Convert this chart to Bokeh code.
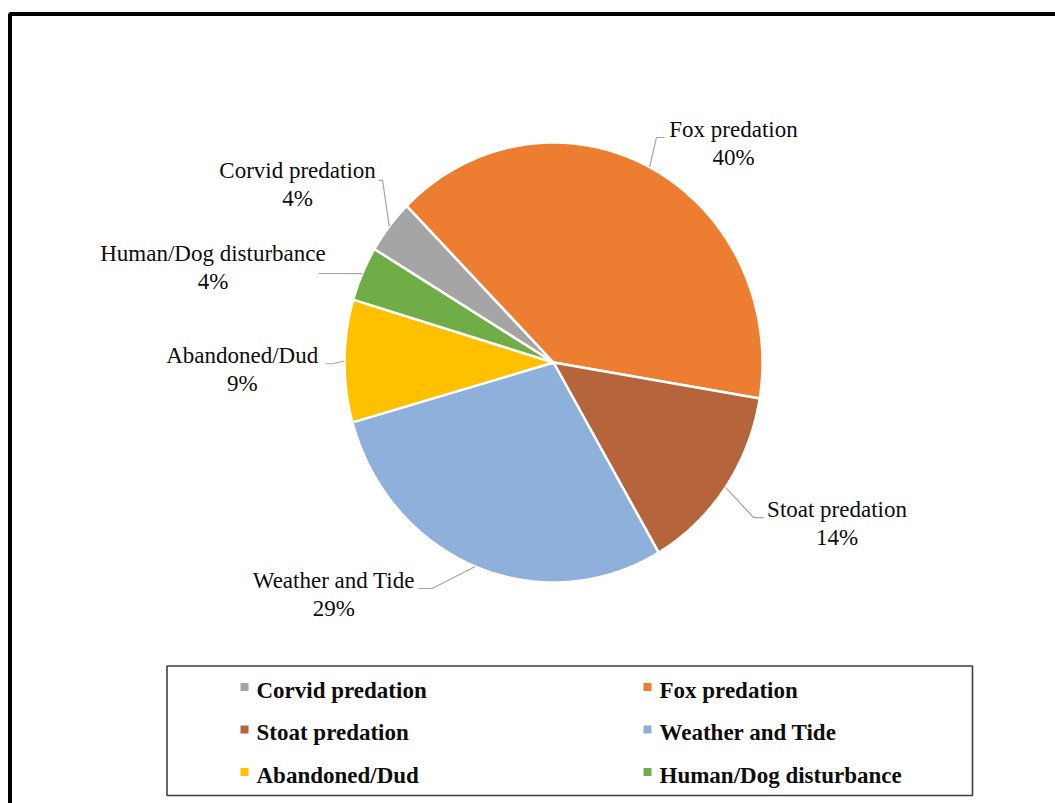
import numpy as np
from bokeh.plotting import figure
from bokeh.models import Range1d, ColumnDataSource
from bokeh.core.properties import value
from bokeh.embed import file_html
from bokeh.resources import INLINE

# Causes of nest failure, share of all failed nests (%)
categories = ["Corvid predation", "Fox predation", "Stoat predation",
              "Weather and Tide", "Abandoned/Dud", "Human/Dog disturbance"]
percent = [4, 40, 14, 29, 9, 4]
colors = ["#A5A5A5", "#ED7D31", "#B5643B", "#8EB0DA", "#FFC000", "#70AD47"]

W, H = 1055, 803
FONT = "Liberation Serif"
TEXT_COLOR = "#0D0D0D"
LABEL_PX, LEGEND_PX = 23, 23
# the renderer sets "alphabetic" text a little low; pull it back up
LABEL_RAISE = 0.31 * LABEL_PX
LEGEND_RAISE = 0.31 * LEGEND_PX

# pie geometry in page pixels (the y range is flipped so y grows downwards)
CX, CY = 553.0, 362.0
RX, RY = 209.0, 220.0
FIRST_SLICE_DEG = 301.0   # clockwise from 12 o'clock

# per-slice label layout: elbow offset from the rim point, horizontal tail,
# and offset of the text block (centre x, first baseline) from the tail end
LABEL_LAYOUT = [
    (-6.7, -46.0, -4.0, -81.0, -3.3),
    (6.8, -29.7, 8.0, 69.0, -1.0),
    (28.0, 30.1, 10.0, 73.5, -1.0),
    (-43.0, 22.0, -13.7, -84.7, -1.3),
    (-12.3, 2.8, -6.7, -83.3, -1.6),
    (-33.8, -0.2, -10.0, -105.5, -13.0),
]
LINE_GAP = 28.3


def rim(theta_deg):
    t = np.radians(theta_deg)
    return CX + RX * np.sin(t), CY - RY * np.cos(t)


p = figure(width=W, height=H, output_backend="svg", toolbar_location=None,
           x_range=Range1d(0, W), y_range=Range1d(H, 0),
           min_border=0, outline_line_color=None, background_fill_color="white",
           border_fill_color="white")
p.axis.visible = False
p.grid.visible = False

# outer chart frame
p.quad(left=[9.5], right=[W + 20], top=[13.5], bottom=[H + 20],
       fill_color=None, line_color="black", line_width=4)

# pie slices
total = float(sum(percent))
spans = [360.0 * v / total for v in percent]
starts = FIRST_SLICE_DEG + np.concatenate([[0.0], np.cumsum(spans)[:-1]])
xs, ys = [], []
for s, sp in zip(starts, spans):
    th = np.linspace(s, s + sp, max(int(sp * 2), 8))
    px, py = rim(th)
    xs.append([CX] + list(px))
    ys.append([CY] + list(py))
p.patches(xs=xs, ys=ys, fill_color=colors, line_color="white", line_width=2.5,
          line_join="round")

# data labels with leader lines
lx, ly, l1, l2, tx, ty1, ty2 = [], [], [], [], [], [], []
for i, (s, sp) in enumerate(zip(starts, spans)):
    rx0, ry0 = rim(s + sp / 2.0)
    edx, edy, tail, tdx, tdy = LABEL_LAYOUT[i]
    ex, ey = rx0 + edx, ry0 + edy
    fx = ex + tail
    lx.append([rx0, ex, fx])
    ly.append([ry0, ey, ey])
    tx.append(fx + tdx)
    ty1.append(ey + tdy - LABEL_RAISE)
    ty2.append(ey + tdy + LINE_GAP - LABEL_RAISE)
    l1.append(categories[i])
    l2.append(f"{percent[i]:.0f}%")
p.multi_line(xs=lx, ys=ly, line_color="#A6A6A6", line_width=1.2)
p.text(x=tx, y=ty1, text=l1, text_font=value(FONT), text_font_size=f"{LABEL_PX}px",
       text_align="center", text_baseline="alphabetic", text_color=TEXT_COLOR)
p.text(x=tx, y=ty2, text=l2, text_font=value(FONT), text_font_size=f"{LABEL_PX}px",
       text_align="center", text_baseline="alphabetic", text_color=TEXT_COLOR)

# legend box, two columns
LEG_L, LEG_R, LEG_T, LEG_B = 166.5, 972.0, 665.5, 795.0
p.quad(left=[LEG_L], right=[LEG_R], top=[LEG_T], bottom=[LEG_B],
       fill_color="white", line_color="#3F3F3F", line_width=1.6)
COL_X = [244.0, 647.0]
ROW_Y0, ROW_STEP = 697.0, 42.5
mx = [COL_X[i % 2] for i in range(len(categories))]
my = [ROW_Y0 + ROW_STEP * (i // 2) for i in range(len(categories))]
leg = ColumnDataSource(dict(
    sx=mx, sy=[y - 10.5 for y in my], tx=[x + 12.0 for x in mx],
    ty=[y - LEGEND_RAISE for y in my], name=categories, color=colors))
p.scatter(x="sx", y="sy", source=leg, marker="square", size=8,
          fill_color="color", line_color=None)
p.text(x="tx", y="ty", text="name", source=leg, text_font=value(FONT),
       text_font_size=f"{LEGEND_PX}px", text_font_style="bold",
       text_align="left", text_baseline="alphabetic", text_color=TEXT_COLOR)

open("out.html", "w").write(file_html(p, INLINE))
